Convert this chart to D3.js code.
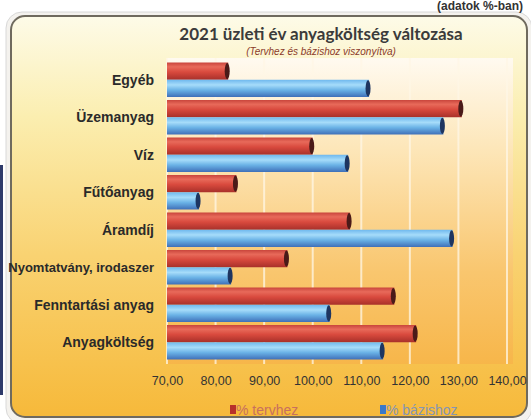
<!DOCTYPE html>
<html><head><meta charset="utf-8">
<script src="https://cdn.jsdelivr.net/npm/d3@7"></script>
<style>html,body{margin:0;padding:0;background:#fff;overflow:hidden}</style>
</head><body>
<svg id="c" width="531" height="420"></svg>
<script>
const categories = ["Egyéb","Üzemanyag","Víz","Fűtőanyag","Áramdíj","Nyomtatvány, irodaszer","Fenntartási anyag","Anyagköltség"];
const tervhez  = [82.6,130.7,100.0,84.3,107.7,94.8,116.8,121.3];
const bazishoz = [111.6,126.9,107.3,76.6,128.8,83.2,103.5,114.5];
const ticks = [70,80,90,100,110,120,130,140];
const seriesNames = ["% tervhez","% bázishoz"];

const NARROW = "Liberation Sans Narrow, Arial Narrow, sans-serif";
const svg = d3.select("#c");
const defs = svg.append("defs");
function lg(id, stops, vertical=true){
  const g = defs.append("linearGradient").attr("id",id)
    .attr("x1",0).attr("y1",0).attr("x2",vertical?0:1).attr("y2",vertical?1:0);
  stops.forEach(s=>g.append("stop").attr("offset",s[0]).attr("stop-color",s[1]));
}
lg("panel",[[0,"#fdfbe8"],[0.25,"#fbeeb0"],[0.6,"#f9d271"],[1,"#f6b93a"]]);
lg("plot",[[0,"#fffaf0"],[0.3,"#fde6b8"],[0.7,"#f9c66e"],[1,"#f7b64a"]]);
lg("red",[[0,"#c9453c"],[0.25,"#e86a5a"],[0.55,"#d94a3e"],[1,"#a8302a"]]);
lg("blue",[[0,"#6fb8ee"],[0.3,"#a6dcfa"],[0.6,"#6ab2e6"],[1,"#3f6fb8"]]);

// outer frame
svg.append("rect").attr("x",0).attr("y",0).attr("width",531).attr("height",420).attr("fill","#fff");
svg.append("rect").attr("x",0).attr("y",165).attr("width",3).attr("height",230).attr("fill","#2e3a6a");
svg.append("rect").attr("x",6).attr("y",12).attr("width",526).attr("height",412).attr("rx",16)
  .attr("fill","#f4f2ee").attr("stroke","#d8d8d8");
svg.append("rect").attr("x",11).attr("y",16).attr("width",516).attr("height",401).attr("rx",14)
  .attr("fill","url(#panel)").attr("stroke","#6f6a5e").attr("stroke-width",2);

// header note
svg.append("text").attr("x",523).attr("y",10).attr("text-anchor","end")
  .attr("font-family",NARROW).attr("font-weight","bold")
  .attr("font-size",12).attr("fill","#333").text("(adatok %-ban)");

const m = {l:167, r:507, t:61, b:361};
const x = d3.scaleLinear().domain([70,140]).range([m.l, m.r]);
const y = d3.scaleBand().domain(categories).range([m.t, m.b]).paddingInner(0.08).paddingOuter(0.04);
const y2 = d3.scaleBand().domain(seriesNames).range([0, y.bandwidth()]);

svg.append("rect").attr("x",m.l).attr("y",m.t-3).attr("width",m.r-m.l+6).attr("height",m.b-m.t+6).attr("fill","url(#plot)");

// gridlines
svg.append("g").selectAll("line").data(ticks).join("line")
  .attr("x1",d=>x(d)).attr("x2",d=>x(d)).attr("y1",m.t-3).attr("y2",m.b+3)
  .attr("stroke","#fff7e6").attr("stroke-width",2).attr("opacity",0.75);

// title
svg.append("text").attr("x",321).attr("y",40).attr("text-anchor","middle")
  .attr("font-family","Lato, Open Sans, sans-serif").attr("font-weight","bold")
  .attr("font-size",17).attr("fill","#3b3b3b").text("2021 üzleti év anyagköltség változása");
svg.append("text").attr("x",321).attr("y",55).attr("text-anchor","middle")
  .attr("font-family",NARROW).attr("font-style","italic")
  .attr("font-size",10).attr("fill","#8a3a2a").text("(Tervhez és bázishoz viszonyítva)");

// bars
const series = [
  {name:seriesNames[0], vals:tervhez, fill:"url(#red)", cap:"#4a1a18"},
  {name:seriesNames[1], vals:bazishoz, fill:"url(#blue)", cap:"#1e3560"}
];
const gb = svg.append("g");
series.forEach(s=>{
  const g = gb.append("g");
  g.selectAll("rect").data(categories).join("rect")
    .attr("x",x(70)).attr("y",(d)=>y(d)+y2(s.name))
    .attr("width",(d,i)=>x(s.vals[i])-x(70)).attr("height",y2.bandwidth())
    .attr("fill",s.fill);
  g.selectAll("ellipse").data(categories).join("ellipse")
    .attr("cx",(d,i)=>x(s.vals[i])-1).attr("cy",d=>y(d)+y2(s.name)+y2.bandwidth()/2)
    .attr("rx",2.5).attr("ry",y2.bandwidth()/2-0.5).attr("fill",s.cap);
});

// category labels
svg.append("g").selectAll("text").data(categories).join("text")
  .attr("x",154).attr("y",d=>y(d)+y.bandwidth()/2+5).attr("text-anchor","end")
  .attr("font-family",NARROW).attr("font-weight","bold")
  .attr("font-size",d=>d.length>18?13:14).attr("fill","#2a2a2a").text(d=>d);

// x axis labels
const ax = svg.append("g").attr("transform",`translate(0,${m.b})`)
  .call(d3.axisBottom(x).tickValues(ticks).tickSize(0).tickPadding(15)
    .tickFormat(d=>d3.format(".2f")(d).replace(".",",")));
ax.select(".domain").remove();
ax.selectAll("text").attr("font-family",NARROW)
  .attr("font-size",12.5).attr("fill","#333");

// legend
const leg = [{n:seriesNames[0],c:"#b8302a",t:"#c8705e",x:230},{n:seriesNames[1],c:"#3a78c8",t:"#8595b5",x:380}];
const lgG = svg.append("g");
leg.forEach(l=>{
  lgG.append("rect").attr("x",l.x).attr("y",405).attr("width",6).attr("height",9).attr("fill",l.c);
  lgG.append("text").attr("x",l.x+6).attr("y",415).attr("font-family",NARROW)
    .attr("font-size",14).attr("fill",l.t).text(l.n);
});
</script>
</body></html>
